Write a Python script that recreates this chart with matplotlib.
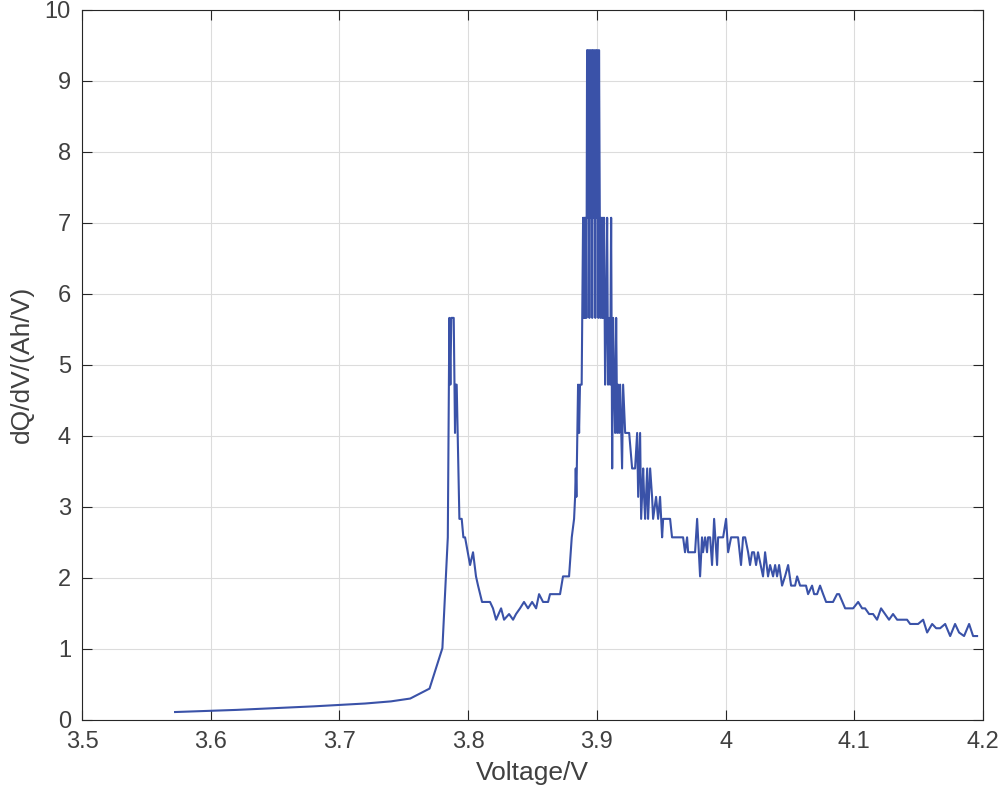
import numpy as np
import matplotlib
matplotlib.use('Agg')
import matplotlib.pyplot as plt

plt.rcParams['font.family'] = ['Liberation Sans', 'DejaVu Sans']

# ---------- data ----------
voltage = [
    3.5723, 3.620, 3.680, 3.720, 3.740, 3.755, 3.770, 3.780, 3.7842,
    3.7854, 3.7862, 3.7869, 3.7888, 3.7898, 3.7903, 3.7911, 3.7932, 3.7950,
    3.7963, 3.7976, 3.8015, 3.8038, 3.8061, 3.8077, 3.8108, 3.8170, 3.8193,
    3.8217, 3.8256, 3.8279, 3.8318, 3.8349, 3.8372, 3.8403, 3.8434, 3.8465,
    3.8497, 3.8528, 3.8551, 3.8582, 3.8621, 3.8636, 3.8714, 3.8737, 3.8784,
    3.8805, 3.8823, 3.8831, 3.8836, 3.8841, 3.8854, 3.8862, 3.8869, 3.8882,
    # main peak
    3.8893, 3.8898, 3.8904, 3.8908, 3.8914, 3.8919, 3.8924, 3.8930, 3.8935,
    3.8942, 3.8947, 3.8953, 3.8959, 3.8964, 3.8970, 3.8977, 3.8982, 3.8988,
    3.8994, 3.9000, 3.9005, 3.9012, 3.9017, 3.9023, 3.9028, 3.9034, 3.9041,
    3.9047, 3.9052, 3.9056,
    3.9064, 3.9072, 3.9080, 3.9087, 3.9095,
    3.9103, 3.9111, 3.9119, 3.9126, 3.9134, 3.9142, 3.9150, 3.9158, 3.9165,
    3.9173, 3.9181, 3.9196, 3.9204, 3.9220, 3.9251, 3.9274, 3.9297, 3.9313,
    3.9321, 3.9336, 3.9344, 3.9360, 3.9367, 3.9375, 3.9391, 3.9398, 3.9414,
    3.9429, 3.9437, 3.9460, 3.9476, 3.9491, 3.9507, 3.9515, 3.9569, 3.9584,
    3.9670, 3.9685, 3.9701, 3.9709, 3.9763, 3.9779, 3.9802, 3.9817, 3.9825,
    3.9841, 3.9856, 3.9864, 3.9880, 3.9895, 3.9911, 3.9934, 3.9942, 3.9981,
    4.0004, 4.0020, 4.0043, 4.0097, 4.0120, 4.0136, 4.0152, 4.0175, 4.0190,
    4.0206, 4.0221, 4.0237, 4.0252, 4.0291, 4.0307, 4.0330, 4.0346, 4.0369,
    4.0385, 4.0400, 4.0416, 4.0439, 4.0462, 4.0486, 4.0509, 4.0540, 4.0556,
    4.0579, 4.0625, 4.0641, 4.0672, 4.0688, 4.0711, 4.0734, 4.0758, 4.0781,
    4.0835, 4.0866, 4.0882, 4.0929, 4.0967, 4.0991, 4.1030, 4.1061, 4.1084,
    4.1115, 4.1146, 4.1177, 4.1208, 4.1239, 4.1270, 4.1301, 4.1333, 4.1410,
    4.1434, 4.1496, 4.1535, 4.1566, 4.1605, 4.1636, 4.1667, 4.1706, 4.1745,
    4.1783, 4.1814, 4.1853, 4.1892, 4.1923, 4.1954,
]
dqdv = [
    0.11, 0.14, 0.19, 0.23, 0.26, 0.30, 0.44, 1.01, 2.57,
    5.66, 4.72, 5.66, 5.66, 4.04, 4.72, 4.72, 2.83, 2.83,
    2.57, 2.57, 2.18, 2.36, 2.02, 1.89, 1.66, 1.66, 1.57,
    1.41, 1.57, 1.41, 1.49, 1.41, 1.49, 1.57, 1.66, 1.57,
    1.66, 1.57, 1.77, 1.66, 1.66, 1.77, 1.77, 2.02, 2.02,
    2.57, 2.83, 3.14, 3.54, 3.14, 4.72, 4.04, 4.72, 4.72,
    # main peak
    7.07, 5.66, 7.07, 5.66, 7.07, 5.66, 9.43, 7.07, 9.43,
    5.66, 9.43, 7.07, 9.43, 5.66, 9.43, 7.07, 9.43, 5.66,
    9.43, 7.07, 9.43, 5.66, 9.43, 7.07, 5.66, 7.07, 5.66,
    7.07, 5.66, 7.07,
    4.72, 5.66, 7.07, 4.72, 5.66,
    4.72, 7.07, 3.54, 5.66, 4.72, 4.04, 5.66, 4.04, 4.72,
    4.04, 4.72, 3.54, 4.72, 4.04, 4.04, 3.54, 3.54, 4.04,
    3.14, 4.04, 2.83, 3.54, 3.14, 2.83, 3.54, 2.83, 3.54,
    3.14, 2.83, 3.14, 2.83, 3.14, 2.57, 2.83, 2.83, 2.57,
    2.57, 2.36, 2.57, 2.36, 2.36, 2.83, 2.02, 2.57, 2.36,
    2.57, 2.36, 2.57, 2.57, 2.18, 2.83, 2.18, 2.57, 2.57,
    2.83, 2.36, 2.57, 2.57, 2.18, 2.57, 2.57, 2.36, 2.18,
    2.36, 2.36, 2.18, 2.36, 2.02, 2.36, 2.02, 2.18, 2.02,
    2.18, 2.02, 2.18, 1.89, 2.02, 2.18, 1.89, 1.89, 2.02,
    1.89, 1.89, 1.77, 1.89, 1.77, 1.77, 1.89, 1.77, 1.66,
    1.66, 1.77, 1.77, 1.57, 1.57, 1.57, 1.66, 1.57, 1.57,
    1.49, 1.49, 1.41, 1.57, 1.49, 1.41, 1.49, 1.41, 1.41,
    1.35, 1.35, 1.41, 1.23, 1.35, 1.29, 1.29, 1.35, 1.18,
    1.35, 1.23, 1.18, 1.35, 1.18, 1.18,
]

x_ticks = [3.5, 3.6, 3.7, 3.8, 3.9, 4.0, 4.1, 4.2]
x_ticklabels = ['3.5', '3.6', '3.7', '3.8', '3.9', '4', '4.1', '4.2']
y_ticks = list(range(0, 11))

# ---------- plot ----------
fig = plt.figure(figsize=(10, 8.07), dpi=100)
ax = fig.add_axes([0.082, 0.108, 0.901, 0.880])

ax.plot(voltage, dqdv, color='#3a52a8', lw=1.5)

ax.set_xlim(3.5, 4.2)
ax.set_ylim(0, 10)
ax.set_xticks(x_ticks)
ax.set_xticklabels(x_ticklabels)
ax.set_yticks(y_ticks)

txt = '#404040'
ax.tick_params(direction='in', length=7, width=0.8, colors='#262626',
               labelcolor=txt, labelsize=17, top=True, right=True, pad=8)
for s in ax.spines.values():
    s.set_color('#262626')
    s.set_linewidth(0.8)
ax.grid(True, color='#dcdcdc', lw=0.8)
ax.set_axisbelow(True)

ax.set_xlabel('Voltage/V', fontsize=19, color=txt, labelpad=6)
ax.set_ylabel('dQ/dV/(Ah/V)', fontsize=19, color=txt, labelpad=8)

fig.savefig('out.png', dpi=100)
